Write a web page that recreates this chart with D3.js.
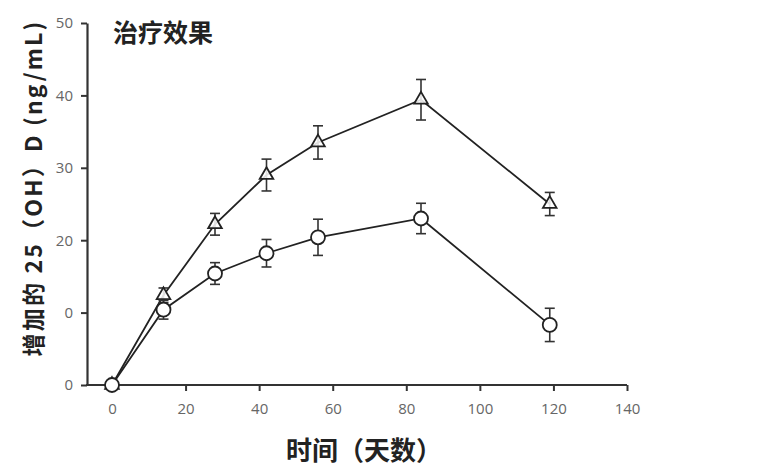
<!DOCTYPE html>
<html><head><meta charset="utf-8">
<script src="https://cdn.jsdelivr.net/npm/d3@7"></script>
<style>body{margin:0;background:#fff}svg{display:block}</style>
</head><body>
<svg id="c" width="763" height="474"></svg>
<script>
const days = [0, 14, 28, 42, 56, 84, 119];
const triValues = [0, 12.4, 22.2, 29.0, 33.5, 39.4, 25.0];
const triErrors = [0, 1.0, 1.5, 2.2, 2.3, 2.8, 1.6];
const circValues = [0, 10.4, 15.4, 18.2, 20.4, 23.0, 8.3];
const circErrors = [0, 1.3, 1.5, 1.9, 2.5, 2.1, 2.3];
const xTicks = [0, 20, 40, 60, 80, 100, 120, 140];
const yTicks = [0, 10, 20, 30, 40, 50];
const yTickLabels = ["0", "0", "20", "30", "40", "50"];
const title = "治疗效果";
const xTitle = "时间（天数）";
const yTitle = "增加的 25（OH）D (ng/mL)";

const svg = d3.select("#c");
const x = d3.scaleLinear().domain([0, 140]).range([112, 627]);
const y = d3.scaleLinear().domain([0, 50]).range([385, 23]);
const axisColor = "#333";
const labelFont = "'Open Sans', 'Noto Sans', sans-serif";
const cjk = "'Noto Sans CJK SC', sans-serif";

// x axis
const xa = svg.append("g").attr("transform", `translate(0,${y(0)})`)
  .call(d3.axisBottom(x).tickValues(xTicks).tickSize(6).tickPadding(12).tickSizeOuter(0));
xa.select(".domain").remove();
svg.append("line").attr("x1", 86).attr("x2", x(140)).attr("y1", y(0)).attr("y2", y(0))
  .attr("stroke", axisColor).attr("stroke-width", 2.2);
xa.selectAll(".tick line").attr("stroke", axisColor).attr("stroke-width", 2);
xa.selectAll(".tick text").attr("font-family", labelFont).attr("font-size", 15).attr("fill", "#666");

// y axis
const ya = svg.append("g").attr("transform", `translate(87,0)`)
  .call(d3.axisLeft(y).tickValues(yTicks).tickFormat((d, i) => yTickLabels[i]).tickSize(6).tickPadding(8).tickSizeOuter(0));
ya.select(".domain").attr("stroke", axisColor).attr("stroke-width", 2.2);
ya.selectAll(".tick line").attr("stroke", axisColor).attr("stroke-width", 2);
ya.selectAll(".tick text").attr("font-family", labelFont).attr("font-size", 15).attr("fill", "#666");

// titles
svg.append("text").attr("x", 113).attr("y", 42).text(title)
  .attr("font-family", cjk).attr("font-weight", "bold").attr("font-size", 25).attr("fill", "#222");
svg.append("text").attr("x", 286).attr("y", 460).text(xTitle)
  .attr("font-family", cjk).attr("font-weight", "bold").attr("font-size", 26).attr("fill", "#222");
svg.append("text").attr("transform", "translate(42,188) rotate(-90)").attr("text-anchor", "middle")
  .attr("letter-spacing", 2.2)
  .text(yTitle).attr("font-family", cjk).attr("font-weight", "bold").attr("font-size", 23).attr("fill", "#222");

function series(values, errors, shape) {
  const data = days.map((d, i) => ({d, v: values[i], e: errors[i]}));
  const line = d3.line().x(p => x(p.d)).y(p => y(p.v));
  svg.append("path").datum(data).attr("d", line).attr("fill", "none")
    .attr("stroke", "#222").attr("stroke-width", 1.8);
  const g = svg.append("g");
  data.filter(p => p.e > 0).forEach(p => {
    const cx = x(p.d);
    g.append("line").attr("x1", cx).attr("x2", cx).attr("y1", y(p.v + p.e)).attr("y2", y(p.v - p.e))
      .attr("stroke", "#333").attr("stroke-width", 1.6);
    [p.v + p.e, p.v - p.e].forEach(vv => g.append("line").attr("x1", cx - 5).attr("x2", cx + 5)
      .attr("y1", y(vv)).attr("y2", y(vv)).attr("stroke", "#333").attr("stroke-width", 1.6));
  });
  data.forEach(p => {
    if (shape === "circle") {
      g.append("circle").attr("cx", x(p.d)).attr("cy", y(p.v)).attr("r", 7)
        .attr("fill", "#fff").attr("stroke", "#222").attr("stroke-width", 1.8);
    } else {
      g.append("path").attr("d", d3.symbol(d3.symbolTriangle, 80)())
        .attr("transform", `translate(${x(p.d)},${y(p.v)})`)
        .attr("fill", "#fff").attr("fill-opacity", 0.85).attr("stroke", "#222").attr("stroke-width", 1.8);
    }
  });
}
series(triValues, triErrors, "triangle");
series(circValues, circErrors, "circle");
</script>
</body></html>
